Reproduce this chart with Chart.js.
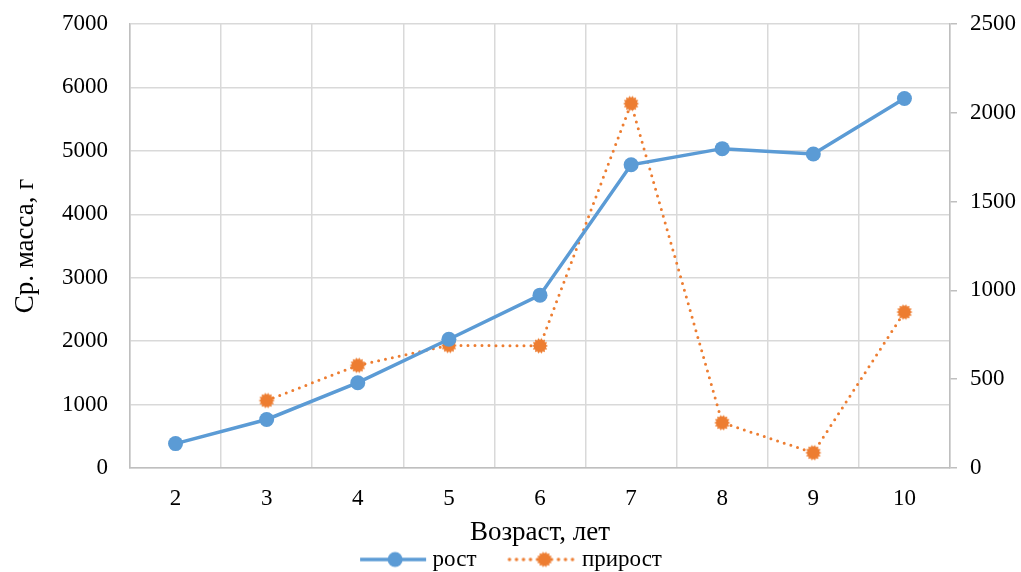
<!DOCTYPE html>
<html><head><meta charset="utf-8">
<script src="https://cdn.jsdelivr.net/npm/chart.js@4/dist/chart.umd.min.js"></script>
<style>html,body{margin:0;padding:0;background:#fff}#wrap{width:1021px;height:572px}</style>
</head><body><div id="wrap"><canvas id="c" width="1021" height="572"></canvas></div>
<script>
const categories = ['2','3','4','5','6','7','8','9','10'];
const rostValues = [385, 765, 1345, 2030, 2725, 4780, 5035, 4950, 5825];
const prirostValues = [null, 380, 578, 690, 688, 2052, 255, 86, 878];
const seriesNames = ['рост', 'прирост'];
const leftTitle = 'Ср. масса, г';
const bottomTitle = 'Возраст, лет';

const BLUE = '#5B9BD5', ORANGE = '#ED7D31';
const FONT = 'Liberation Serif';
const FS = 23, TFS = 27;
const LEG_PAD = 36, LEG_BOX = 92, LEG_SHIFT = 15;

function starImg(r, color) {
  const c = document.createElement('canvas');
  const s = Math.ceil(r * 2 + 4); c.width = s; c.height = s;
  const g = c.getContext('2d'); g.fillStyle = color;
  const cx = s / 2, cy = s / 2, n = 14;
  g.beginPath();
  for (let i = 0; i < n * 2; i++) {
    const a = Math.PI * i / n;
    const rr = i % 2 === 0 ? r + 1 : r - 1;
    const x = cx + rr * Math.cos(a), y = cy + rr * Math.sin(a);
    i ? g.lineTo(x, y) : g.moveTo(x, y);
  }
  g.closePath(); g.fill();
  return c;
}
function legendImg(color, dotted, star) {
  const c = document.createElement('canvas'); c.width = 70 + LEG_PAD; c.height = 18;
  const g = c.getContext('2d');
  const x0 = LEG_PAD, cx = LEG_PAD + 37;
  g.strokeStyle = color; g.lineWidth = 3.5;
  if (dotted) { g.setLineDash([0, 7]); g.lineCap = 'round'; } else { g.lineCap = 'butt'; }
  g.beginPath(); g.moveTo(x0 + 2, 9); g.lineTo(x0 + 68, 9); g.stroke();
  g.setLineDash([]);
  if (star) { g.drawImage(star, cx - star.width / 2, 9 - star.height / 2); }
  else { g.fillStyle = color; g.beginPath(); g.arc(cx, 9, 7.5, 0, Math.PI * 2); g.fill(); }
  return c;
}
const star = starImg(7, ORANGE);
const legBlue = legendImg(BLUE, false, null);
const legOrange = legendImg(ORANGE, true, star);
const noPad = (s) => { s.paddingTop = 0; s.paddingBottom = 0; };

const legendShift = {
  id: 'legendShift',
  afterLayout(chart) { if (chart.legend) { chart.legend.left -= LEG_SHIFT; chart.legend.right -= LEG_SHIFT; } }
};

new Chart(document.getElementById('c'), {
  type: 'line',
  data: {
    labels: categories,
    datasets: [
      { label: seriesNames[0], data: rostValues, yAxisID: 'y', borderColor: BLUE, backgroundColor: BLUE,
        borderWidth: 3.5, pointRadius: 7.5, pointBackgroundColor: BLUE, pointBorderWidth: 0, tension: 0 },
      { label: seriesNames[1], data: prirostValues, yAxisID: 'y2', borderColor: ORANGE, backgroundColor: ORANGE,
        borderWidth: 3, borderDash: [0, 7], borderCapStyle: 'round', pointStyle: star, pointRadius: 7,
        tension: 0, spanGaps: false }
    ]
  },
  plugins: [legendShift],
  options: {
    responsive: false, animation: false,
    layout: { padding: { top: 24, left: 0, right: 0, bottom: -9 } },
    plugins: {
      legend: {
        position: 'bottom',
        labels: {
          font: { family: FONT, size: FS, lineHeight: 1 }, color: '#000', usePointStyle: true,
          pointStyleWidth: LEG_BOX, padding: 2,
          generateLabels: (chart) => [
            { text: seriesNames[0], pointStyle: legBlue, datasetIndex: 0, fillStyle: BLUE, strokeStyle: BLUE, lineWidth: 0 },
            { text: seriesNames[1], pointStyle: legOrange, datasetIndex: 1, fillStyle: ORANGE, strokeStyle: ORANGE, lineWidth: 0 }
          ]
        }
      },
      tooltip: { enabled: false }
    },
    scales: {
      x: {
        offset: true,
        grid: { offset: true, color: '#d9d9d9', lineWidth: 1.5, drawTicks: false },
        border: { color: '#bfbfbf', width: 1.5 },
        ticks: { font: { family: FONT, size: FS }, color: '#000', padding: 17 },
        title: { display: true, text: bottomTitle, font: { family: FONT, size: TFS, lineHeight: 1 }, color: '#000', padding: { top: 6, bottom: 0 } },
        afterFit: (s) => { s.height = 78; }
      },
      y: {
        position: 'left', min: 0, max: 7000,
        ticks: { stepSize: 1000, font: { family: FONT, size: FS }, color: '#000', padding: 22, callback: (v) => String(v) },
        grid: { color: '#d9d9d9', lineWidth: 1.5, drawTicks: false },
        border: { color: '#bfbfbf', width: 1.5 },
        title: { display: true, text: leftTitle, font: { family: FONT, size: TFS, lineHeight: 1 }, color: '#000', padding: { top: 12, bottom: 0 } },
        afterFit: (s) => { s.width = 130; noPad(s); }
      },
      y2: {
        position: 'right', min: 0, max: 2500,
        ticks: { stepSize: 500, font: { family: FONT, size: FS }, color: '#000', padding: 13, callback: (v) => String(v) },
        grid: { drawOnChartArea: false, color: '#bfbfbf', lineWidth: 1.5, tickLength: 7 },
        border: { color: '#bfbfbf', width: 1.5 },
        afterFit: (s) => { s.width = 71; noPad(s); }
      }
    }
  }
});
</script></body></html>
